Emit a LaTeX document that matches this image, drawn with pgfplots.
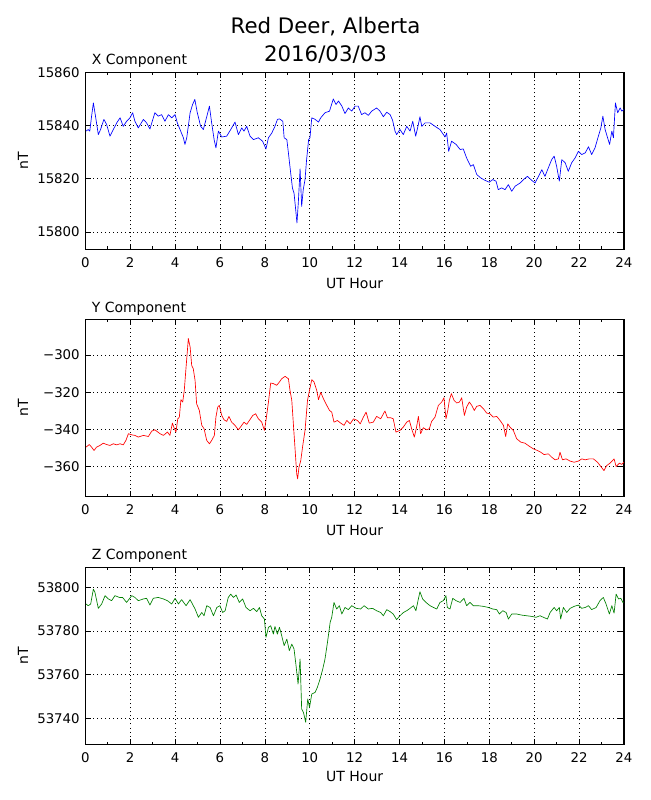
\documentclass[border=0pt]{standalone}
\usepackage{fontspec}
\setmainfont{DejaVu Sans}
\usepackage{pgfplots}
\pgfplotsset{compat=1.18}
\pgfplotsset{geo/.style={
 scale only axis, width=404pt, height=132.75pt, anchor=south west,
 xmin=0, xmax=24, xtick={0,2,...,24}, minor x tick num=1,
 scaled y ticks=false, scaled x ticks=false,
 grid=major, major grid style={black, line width=0.5pt, dash pattern=on 0.6pt off 2.4pt},
 tick align=inside, major tick length=4.2pt, minor tick length=2.1pt,
 every tick/.style={black, line width=0.5pt},
 axis line style={line width=0.9pt},
 tick label style={font=\fontsize{10}{12}\selectfont},
 /pgf/number format/assume math mode=true,
 /pgf/number format/1000 sep={},
 xticklabel style={anchor=base, yshift=-13.5pt},
 yticklabel style={anchor=east, inner xsep=0pt, xshift=-4pt},
 every axis plot/.append style={line width=0.5pt, line join=round},
}}
\begin{document}
\begin{tikzpicture}[x=0.75pt,y=0.75pt]
\path[use as bounding box] (0,0) rectangle (650,800);
% titles
\node[anchor=base, font=\fontsize{16}{19}\selectfont, inner sep=0pt] at (325.5,766) {Red Deer, Alberta};
\node[anchor=base, font=\fontsize{16}{19}\selectfont, inner sep=0pt] at (325.5,738.3) {2016/03/03};
% ---------- X ----------
\begin{axis}[geo, at={(63.975pt,413.025pt)}, ymin=15793.5, ymax=15860,
  ytick={15800,15820,15840,15860}, yticklabels={15800,15820,15840,15860}]
\addplot[blue] coordinates {
(0.03,15837.9)(0.13,15838.5)(0.2,15837.9)(0.28,15843.5)(0.36,15848.5)(0.43,15844.8)(0.5,15841)(0.58,15836.6)(0.68,15838.5)(0.83,15842.3)(0.95,15840.4)(1.1,15836)(1.25,15838.5)(1.4,15841)(1.55,15842.9)(1.69,15839.7)(1.84,15841.6)(1.99,15842.9)(2.11,15844.8)(2.21,15841.6)(2.36,15839.1)(2.59,15842.3)(2.73,15841)(2.88,15838.7)(3.1,15844.8)(3.25,15843.5)(3.4,15844.1)(3.55,15841.6)(3.7,15844.1)(3.85,15842.9)(4.0,15844.1)(4.1,15841)(4.22,15838.5)(4.37,15835.4)(4.44,15832.9)(4.52,15835.4)(4.67,15844.8)(4.78,15847.9)(4.88,15849.8)(4.99,15844.8)(5.14,15839.7)(5.26,15838.5)(5.38,15842.3)(5.53,15847.3)(5.63,15841)(5.74,15834.7)(5.82,15831.6)(5.93,15837.9)(6.08,15835.7)(6.3,15836)(6.48,15838.5)(6.67,15841.3)(6.82,15836.6)(6.97,15839.1)(7.07,15837.9)(7.19,15839.7)(7.34,15836)(7.49,15834.7)(7.71,15835.4)(7.9,15834.1)(8.05,15831.2)(8.16,15835.4)(8.31,15837.2)(8.45,15839.7)(8.56,15842.3)(8.65,15842.5)(8.8,15841.6)(8.86,15835.4)(8.98,15834.7)(9.05,15829.7)(9.15,15822.2)(9.23,15816.5)(9.3,15814.6)(9.36,15809.6)(9.43,15803.4)(9.49,15810.9)(9.57,15823.7)(9.64,15809.6)(9.71,15815.9)(9.79,15819.7)(9.86,15827.2)(9.95,15834.7)(10.01,15835.4)(10.09,15842.9)(10.24,15842.3)(10.39,15841.3)(10.49,15842.9)(10.68,15844.8)(10.88,15845.4)(11.05,15850)(11.17,15847.9)(11.28,15849.2)(11.43,15847.3)(11.57,15844.5)(11.72,15846.6)(11.87,15845.4)(12.02,15847.3)(12.16,15847.3)(12.31,15844.1)(12.46,15844.8)(12.61,15843.8)(12.76,15845.4)(12.98,15846.6)(13.13,15845.4)(13.28,15843.3)(13.43,15845)(13.58,15844.1)(13.69,15842)(13.8,15837.9)(13.87,15836.6)(14.02,15838.5)(14.17,15836.6)(14.32,15839.7)(14.47,15837.9)(14.59,15841.6)(14.72,15836)(14.84,15840.4)(14.91,15843.3)(14.99,15839.7)(15.14,15841)(15.36,15841)(15.58,15839.7)(15.8,15838.5)(16.03,15835.7)(16.1,15837.2)(16.19,15830.3)(16.32,15834.1)(16.52,15832.9)(16.7,15831)(16.84,15831.2)(16.99,15827.8)(17.17,15824.7)(17.29,15825.3)(17.44,15821.6)(17.62,15820.3)(17.81,15819.4)(18.0,15818.7)(18.15,15819.7)(18.3,15819.1)(18.4,15815.9)(18.55,15816.6)(18.7,15815.9)(18.85,15817.8)(19.0,15815.3)(19.15,15817.2)(19.37,15818.4)(19.55,15819.9)(19.7,15820.9)(19.89,15819.4)(20.04,15818.4)(20.19,15820.9)(20.34,15823.4)(20.48,15820.9)(20.63,15824.1)(20.78,15827.2)(20.89,15828.5)(21.0,15824.7)(21.12,15819.1)(21.23,15827.2)(21.38,15826)(21.52,15822.8)(21.67,15826)(21.82,15827.8)(21.97,15830.3)(22.12,15829.1)(22.27,15829.7)(22.42,15832)(22.56,15829.1)(22.71,15831.6)(22.86,15836)(22.97,15839.1)(23.06,15843.5)(23.16,15838.5)(23.27,15835.4)(23.36,15832.9)(23.46,15837.9)(23.53,15835.4)(23.62,15848.5)(23.72,15844.8)(23.83,15846.6)(23.9,15845.4)(24.0,15846)
};
\end{axis}
% ---------- Y ----------
\begin{axis}[geo, at={(63.975pt,227.625pt)}, ymin=-376, ymax=-281,
  ytick={-360,-340,-320,-300}, yticklabels={−360,−340,−320,−300}]
\addplot[red] coordinates {
(0.03,-349.5)(0.18,-348.1)(0.28,-349.5)(0.39,-351.3)(0.5,-349.5)(0.65,-348.6)(0.8,-347.4)(0.95,-348.1)(1.1,-348.6)(1.25,-347.7)(1.4,-348.3)(1.55,-347.7)(1.69,-348.3)(1.81,-345.9)(1.92,-342.3)(2.07,-342.9)(2.21,-343.2)(2.36,-344.1)(2.59,-343.2)(2.81,-343.8)(2.96,-340.9)(3.1,-340.2)(3.33,-342.3)(3.48,-343.2)(3.66,-341.4)(3.77,-343.2)(3.88,-336.6)(3.97,-339.6)(4.04,-341.4)(4.12,-334.3)(4.19,-333.4)(4.26,-324)(4.34,-325.3)(4.41,-319)(4.49,-306.5)(4.55,-297.5)(4.59,-291.2)(4.67,-295.7)(4.74,-305.6)(4.81,-307.4)(4.89,-313.6)(4.96,-326.2)(5.08,-329.8)(5.19,-337.8)(5.29,-339.6)(5.41,-345.9)(5.53,-347.7)(5.63,-345.9)(5.75,-343.2)(5.82,-333.4)(5.9,-328)(5.97,-327.1)(6.08,-332.5)(6.18,-334.8)(6.3,-335.7)(6.4,-333)(6.52,-336.1)(6.67,-337.8)(6.82,-340.2)(6.97,-337.8)(7.07,-336.1)(7.19,-337.3)(7.31,-335.2)(7.46,-332.5)(7.59,-331.6)(7.71,-334.3)(7.86,-336.1)(7.98,-340.5)(8.05,-335.2)(8.16,-325.3)(8.26,-315.1)(8.38,-315.4)(8.53,-316.3)(8.65,-314.5)(8.75,-312.8)(8.9,-311.5)(9.05,-312.8)(9.12,-319)(9.2,-324.4)(9.27,-337)(9.35,-351.3)(9.42,-363.9)(9.46,-366.5)(9.52,-360.3)(9.6,-356.7)(9.69,-348.6)(9.79,-340.5)(9.9,-324.4)(9.99,-319)(10.09,-313.3)(10.19,-314.5)(10.31,-319)(10.39,-324)(10.49,-320.1)(10.61,-323.5)(10.76,-327.1)(10.88,-329.8)(10.98,-330.7)(11.08,-336.1)(11.23,-335.2)(11.38,-336.6)(11.53,-337.8)(11.65,-335.2)(11.8,-337)(11.95,-334.3)(12.13,-335.2)(12.25,-337)(12.39,-333.4)(12.51,-330.7)(12.65,-336.6)(12.83,-336.1)(12.98,-333)(13.16,-334.3)(13.35,-330.1)(13.46,-333.7)(13.6,-333.7)(13.72,-334.3)(13.84,-341.4)(14.02,-340.5)(14.17,-338.7)(14.32,-336.1)(14.44,-335.2)(14.54,-339.6)(14.66,-344.1)(14.76,-338.7)(14.84,-333)(14.94,-342.3)(15.06,-339.1)(15.21,-340.2)(15.33,-339.6)(15.43,-335.7)(15.58,-333.4)(15.73,-327.1)(15.88,-325.3)(15.98,-323)(16.07,-334.3)(16.15,-329.8)(16.22,-324.4)(16.31,-320.8)(16.43,-324.4)(16.55,-325.8)(16.67,-325.3)(16.77,-323)(16.89,-332.5)(16.99,-328)(17.11,-325.3)(17.22,-327.1)(17.33,-329.8)(17.44,-327.6)(17.59,-327.1)(17.74,-328.9)(17.88,-331.2)(18.03,-331.6)(18.18,-333.4)(18.33,-333)(18.48,-335.2)(18.63,-337.8)(18.73,-343.8)(18.82,-337)(18.92,-338.7)(19.07,-340.5)(19.22,-345)(19.4,-346.8)(19.59,-347.4)(19.79,-349.1)(19.96,-350.4)(20.14,-351.3)(20.29,-352.2)(20.44,-353.5)(20.63,-353.1)(20.78,-354.9)(20.93,-356.3)(21.08,-355.8)(21.15,-352.2)(21.26,-356.3)(21.42,-355.8)(21.6,-357)(21.78,-357.6)(21.97,-357)(22.12,-355.8)(22.27,-356.3)(22.46,-355.8)(22.64,-355.8)(22.82,-357.6)(22.97,-359.9)(23.11,-362.1)(23.23,-359.4)(23.38,-358.1)(23.56,-355.8)(23.65,-359.9)(23.8,-358.1)(23.9,-358.8)(24.0,-357.6)
};
\end{axis}
% ---------- Z ----------
\begin{axis}[geo, at={(63.975pt,41.775pt)}, ymin=53728.1, ymax=53809.2,
  ytick={53740,53760,53780,53800}, yticklabels={53740,53760,53780,53800}]
\addplot[color={rgb,1:red,0;green,0.5;blue,0}] coordinates {
(0.03,53792.4)(0.13,53791.6)(0.24,53792.4)(0.36,53799.2)(0.43,53797.7)(0.58,53790.4)(0.73,53792.4)(0.88,53796.2)(1.03,53794.7)(1.17,53793.9)(1.32,53796.2)(1.52,53795.4)(1.66,53795.4)(1.84,53793.1)(2.07,53796.2)(2.21,53795.4)(2.36,53793.9)(2.59,53794.7)(2.73,53795)(2.88,53791.9)(3.03,53795)(3.25,53795.4)(3.48,53794.7)(3.66,53793.9)(3.85,53792.4)(4.0,53795)(4.15,53792.4)(4.29,53794.4)(4.49,53791.6)(4.67,53794.4)(4.89,53790.1)(5.04,53786.3)(5.19,53788.5)(5.29,53787)(5.41,53791.6)(5.56,53790.8)(5.71,53787)(5.86,53790.8)(6.0,53791.6)(6.12,53788.5)(6.23,53789.3)(6.37,53795.4)(6.48,53796.9)(6.6,53795.4)(6.72,53796.5)(6.86,53793.1)(7.01,53794.7)(7.16,53790.8)(7.34,53789.3)(7.49,53790.4)(7.64,53788.9)(7.76,53790.8)(7.86,53787)(7.98,53785.5)(8.05,53777.1)(8.16,53781.7)(8.26,53782.4)(8.38,53778.6)(8.45,53782.1)(8.56,53778.6)(8.65,53781.7)(8.75,53777.9)(8.86,53773.3)(8.98,53776.3)(9.09,53771)(9.2,53774)(9.3,53771.8)(9.39,53764.1)(9.48,53755.7)(9.57,53767.2)(9.64,53744.3)(9.72,53742.7)(9.82,53738.2)(9.91,53748.9)(9.99,53745)(10.09,53751.1)(10.24,53751.9)(10.34,53754.2)(10.46,53758)(10.58,53762.6)(10.68,53767.2)(10.79,53774.8)(10.91,53784)(10.98,53786.3)(11.08,53793.1)(11.2,53790.1)(11.32,53791.6)(11.43,53787.8)(11.57,53790.8)(11.72,53789.8)(11.87,53791.6)(12.07,53790.4)(12.27,53790.1)(12.42,53791.6)(12.61,53790.1)(12.8,53790.4)(12.98,53789.3)(13.16,53788.5)(13.28,53787)(13.43,53789.8)(13.58,53788.9)(13.72,53787.8)(13.87,53785.2)(14.02,53787)(14.17,53788.5)(14.32,53789.3)(14.47,53790.4)(14.62,53791.6)(14.73,53789.3)(14.84,53794.7)(14.91,53798)(15.03,53794.7)(15.18,53793.1)(15.36,53791.6)(15.51,53790.8)(15.66,53790.1)(15.8,53793.1)(15.95,53793.9)(16.07,53796.2)(16.13,53790.8)(16.25,53790.1)(16.37,53795)(16.52,53793.9)(16.7,53793.1)(16.87,53795)(16.99,53791.6)(17.14,53793.1)(17.29,53791.6)(17.51,53791.6)(17.74,53791.3)(17.96,53790.8)(18.15,53790.1)(18.33,53789.8)(18.45,53787.8)(18.6,53789.3)(18.75,53788.5)(18.85,53785.5)(19.0,53787.8)(19.22,53787.8)(19.44,53787.3)(19.67,53787)(19.89,53786.7)(20.08,53786.3)(20.26,53787)(20.41,53786.3)(20.59,53785.5)(20.71,53788.5)(20.89,53790.8)(21.0,53789.3)(21.12,53790.8)(21.18,53785.5)(21.3,53790.8)(21.45,53788.5)(21.6,53790.4)(21.78,53791.3)(21.97,53791.9)(22.12,53790.4)(22.27,53790.8)(22.42,53791.6)(22.56,53789.8)(22.76,53790.8)(22.93,53793.9)(23.08,53795.4)(23.2,53792.4)(23.35,53787.8)(23.46,53791.6)(23.56,53788.2)(23.65,53796.9)(23.76,53794.7)(23.86,53795)(23.95,53793.1)(24.0,53793.4)
};
\end{axis}
% subplot titles, axis labels
\begin{scope}[every node/.style={font=\fontsize{10.5}{12.5}\selectfont, inner sep=0pt}]
\node[anchor=base west] at (91.5,735) {X Component};
\node[anchor=base west] at (91.5,487.7) {Y Component};
\node[anchor=base west] at (91.5,240) {Z Component};
\node[anchor=base] at (354.7,511.7) {UT Hour};
\node[anchor=base] at (354.7,264.5) {UT Hour};
\node[anchor=base] at (354.7,18) {UT Hour};
\node[rotate=90, anchor=center] at (23,639.2) {nT};
\node[rotate=90, anchor=center] at (23,392) {nT};
\node[rotate=90, anchor=center] at (23,144.2) {nT};
\end{scope}
\end{tikzpicture}
\end{document}
